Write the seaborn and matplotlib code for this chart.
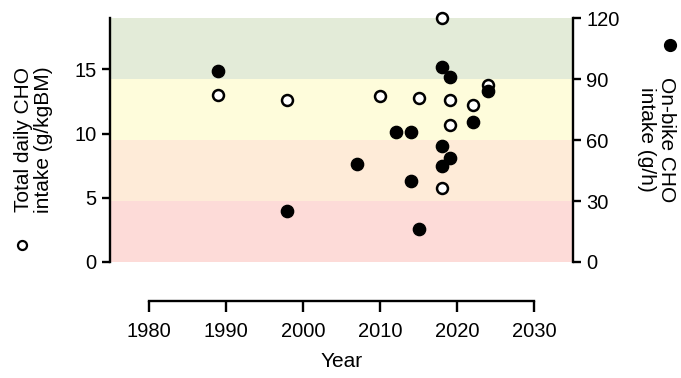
import matplotlib
matplotlib.use("Agg")
import matplotlib.pyplot as plt
import seaborn as sns

# open circles: total daily CHO intake (g/kgBM), left axis
daily_years = [1989, 1998, 2010, 2015, 2018, 2018, 2019, 2019, 2022, 2024]
daily_vals = [13.0, 12.6, 12.9, 12.8, 19.0, 5.8, 12.6, 10.7, 12.2, 13.8]

# filled circles: on-bike CHO intake (g/h), right axis
bike_years = [1989, 1998, 2007, 2012, 2014, 2014, 2015, 2018, 2018, 2018, 2019, 2019, 2022, 2024]
bike_vals = [94, 25, 48, 64, 64, 40, 16, 96, 57, 47, 91, 51, 69, 84]

# background bands in g/h
band_edges = [0, 30, 60, 90, 120]
band_colors = ["#fddbd8", "#feebd8", "#fefcdb", "#e3ebd8"]

left_max = 19
right_max = 120

sns.set_style("ticks")
plt.rcParams["font.family"] = ["Liberation Sans", "DejaVu Sans"]
plt.rcParams["text.color"] = "black"

fig = plt.figure(figsize=(6.81, 3.78), dpi=100)
ax = fig.add_axes([0.1615, 0.307, 0.68, 0.645])
ax2 = ax.twinx()

scale = left_max / right_max
for lo, hi, c in zip(band_edges[:-1], band_edges[1:], band_colors):
    ax.axhspan(lo * scale, hi * scale, color=c, lw=0, zorder=0)

sns.scatterplot(x=daily_years, y=daily_vals, ax=ax, s=62, color="white",
                edgecolor="black", linewidth=1.8, zorder=3, clip_on=False)
sns.scatterplot(x=bike_years, y=bike_vals, ax=ax2, s=78, color="black",
                edgecolor="black", linewidth=1, zorder=3, clip_on=False)

ax.set_xlim(1975, 2035)
ax.set_ylim(0, left_max)
ax2.set_ylim(0, right_max)
ax.set_xticks([1980, 1990, 2000, 2010, 2020, 2030])
ax.set_yticks([0, 5, 10, 15])
ax2.set_yticks([0, 30, 60, 90, 120])

for s in ["top", "right"]:
    ax.spines[s].set_visible(False)
for s in ["top", "left", "bottom"]:
    ax2.spines[s].set_visible(False)
ax.spines["bottom"].set_position(("outward", 28))
ax.spines["bottom"].set_bounds(1980, 2030)
for sp in [ax.spines["left"], ax.spines["bottom"], ax2.spines["right"]]:
    sp.set_linewidth(1.7)
    sp.set_color("black")

ax.tick_params(axis="both", width=1.7, length=6, labelsize=14.5, colors="black")
ax.tick_params(axis="x", length=8, pad=7)
ax2.tick_params(axis="y", width=1.7, length=6, labelsize=14.5, colors="black")

ax.set_xlabel("Year", fontsize=15, labelpad=8, color="black")

fig.text(0.049, 0.63, "Total daily CHO\nintake (g/kgBM)", rotation=90,
         ha="center", va="center", fontsize=15, linespacing=1.1)
fig.text(0.964, 0.63, "On-bike CHO\nintake (g/h)", rotation=270,
         ha="center", va="center", fontsize=15, linespacing=1.1)
fig.add_artist(plt.Line2D([0.0323], [0.352], marker="o", markersize=6.5,
                          markerfacecolor="white", markeredgecolor="black",
                          markeredgewidth=1.6, transform=fig.transFigure))
fig.add_artist(plt.Line2D([0.984], [0.881], marker="o", markersize=8.5,
                          markerfacecolor="black", markeredgecolor="black",
                          transform=fig.transFigure))

plt.savefig("out.png", dpi=100)
